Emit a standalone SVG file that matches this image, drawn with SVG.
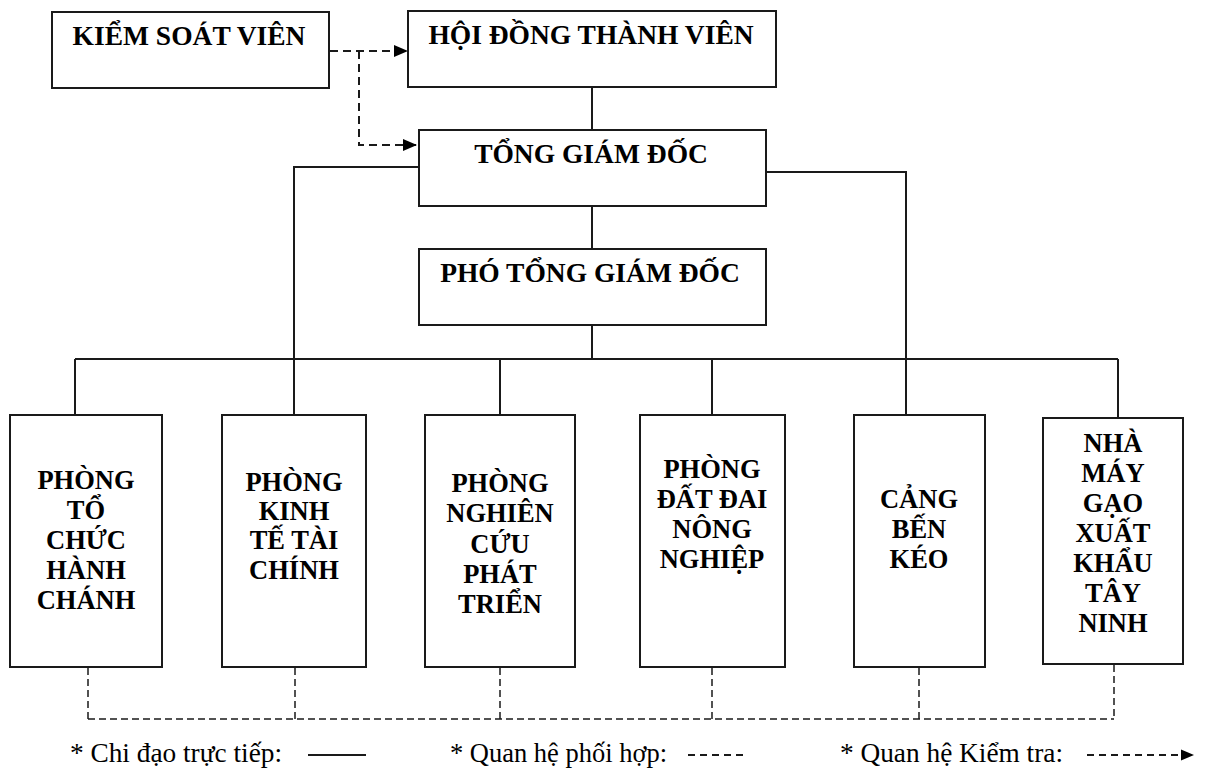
<svg xmlns="http://www.w3.org/2000/svg" width="1208" height="769" viewBox="0 0 1208 769">
<style>
.box{fill:#fff;stroke:#1a1a1a;stroke-width:2}
.t{font-family:"Liberation Serif","Times New Roman",serif;font-weight:bold;font-size:26.5px;fill:#000;text-anchor:middle}
.tt{font-size:27.5px}
.lg{font-family:"Liberation Serif","Times New Roman",serif;font-size:27px;fill:#000}
.ln{fill:none;stroke:#1a1a1a;stroke-width:2}
.dl{fill:none;stroke:#1a1a1a;stroke-width:2;stroke-dasharray:8 5}
.db{fill:none;stroke:#1a1a1a;stroke-width:1.5;stroke-dasharray:7 4}
</style>
<defs>
<marker id="ah" markerUnits="userSpaceOnUse" markerWidth="14" markerHeight="14" viewBox="0 0 14 14" refX="14" refY="7" orient="auto">
<path d="M0,1 L14,7 L0,13 Z" fill="#000"/>
</marker>
<marker id="ahs" markerUnits="userSpaceOnUse" markerWidth="13" markerHeight="13" viewBox="0 0 13 13" refX="13" refY="6.5" orient="auto">
<path d="M0,1 L13,6.5 L0,12 Z" fill="#000"/>
</marker>
</defs>
<rect width="1208" height="769" fill="#fff"/>
<g id="connectors">
<path class="ln" d="M592 87 V130"/>
<path class="ln" d="M592 206 V249"/>
<path class="ln" d="M592 325 V359"/>
<path class="ln" d="M75 359 H1118"/>
<path class="ln" d="M75 359 V415"/>
<path class="ln" d="M419 167 H294 V415"/>
<path class="ln" d="M500 359 V415"/>
<path class="ln" d="M712 359 V415"/>
<path class="ln" d="M766 172 H906 V415"/>
<path class="ln" d="M1118 359 V418"/>
<path class="dl" d="M330 51 H408" marker-end="url(#ah)"/>
<path class="dl" d="M359 51 V145 H417" marker-end="url(#ah)"/>
<path class="db" d="M88 668 V719 M295 668 V719 M500 668 V719 M712 668 V719 M919 668 V719 M1114 665 V719 M88 719 H1114"/>
</g>
<g id="ksv">
<rect class="box" x="52" y="12" width="277" height="76"/>
<text class="t tt" x="189" y="45">KIỂM SOÁT VIÊN</text>
</g>
<g id="hdtv">
<rect class="box" x="408" y="11" width="368" height="76"/>
<text class="t tt" x="591" y="44">HỘI ĐỒNG THÀNH VIÊN</text>
</g>
<g id="tgd">
<rect class="box" x="419" y="130" width="347" height="76"/>
<text class="t tt" x="591" y="163">TỔNG GIÁM ĐỐC</text>
</g>
<g id="ptgd">
<rect class="box" x="419" y="249" width="347" height="76"/>
<text class="t tt" x="590" y="282">PHÓ TỔNG GIÁM ĐỐC</text>
</g>
<g id="p1">
<rect class="box" x="10" y="415" width="152" height="252"/>
<text class="t" x="86" y="489">PHÒNG</text>
<text class="t" x="86" y="519">TỔ</text>
<text class="t" x="86" y="549">CHỨC</text>
<text class="t" x="86" y="579">HÀNH</text>
<text class="t" x="86" y="609">CHÁNH</text>
</g>
<g id="p2">
<rect class="box" x="222" y="415" width="144" height="252"/>
<text class="t" x="294" y="491">PHÒNG</text>
<text class="t" x="294" y="520">KINH</text>
<text class="t" x="294" y="549">TẾ TÀI</text>
<text class="t" x="294" y="579">CHÍNH</text>
</g>
<g id="p3">
<rect class="box" x="425" y="415" width="150" height="252"/>
<text class="t" x="500" y="492">PHÒNG</text>
<text class="t" x="500" y="522">NGHIÊN</text>
<text class="t" x="500" y="553">CỨU</text>
<text class="t" x="500" y="583">PHÁT</text>
<text class="t" x="500" y="613">TRIỂN</text>
</g>
<g id="p4">
<rect class="box" x="640" y="415" width="145" height="252"/>
<text class="t" x="712" y="478">PHÒNG</text>
<text class="t" x="712" y="508">ĐẤT ĐAI</text>
<text class="t" x="712" y="538">NÔNG</text>
<text class="t" x="712" y="568">NGHIỆP</text>
</g>
<g id="p5">
<rect class="box" x="854" y="415" width="131" height="252"/>
<text class="t" x="919" y="508">CẢNG</text>
<text class="t" x="919" y="538">BẾN</text>
<text class="t" x="919" y="568">KÉO</text>
</g>
<g id="p6">
<rect class="box" x="1043" y="418" width="140" height="246"/>
<text class="t" x="1113" y="452">NHÀ</text>
<text class="t" x="1113" y="482">MÁY</text>
<text class="t" x="1113" y="512">GẠO</text>
<text class="t" x="1113" y="542">XUẤT</text>
<text class="t" x="1113" y="572">KHẨU</text>
<text class="t" x="1113" y="602">TÂY</text>
<text class="t" x="1113" y="632">NINH</text>
</g>
<g id="legend">
<text class="lg" x="70" y="762" textLength="212" lengthAdjust="spacingAndGlyphs">* Chi đạo trực tiếp:</text>
<path class="ln" d="M308 755 H366"/>
<text class="lg" x="450" y="762" textLength="217" lengthAdjust="spacingAndGlyphs">* Quan hệ phối hợp:</text>
<path class="ln" d="M688 755 H745" stroke-dasharray="7 5" stroke-width="1.5"/>
<text class="lg" x="840" y="762" textLength="223" lengthAdjust="spacingAndGlyphs">* Quan hệ Kiểm tra:</text>
<path class="ln" d="M1087 755 H1194" stroke-dasharray="7 5" stroke-width="1.5" marker-end="url(#ahs)"/>
</g>
</svg>
